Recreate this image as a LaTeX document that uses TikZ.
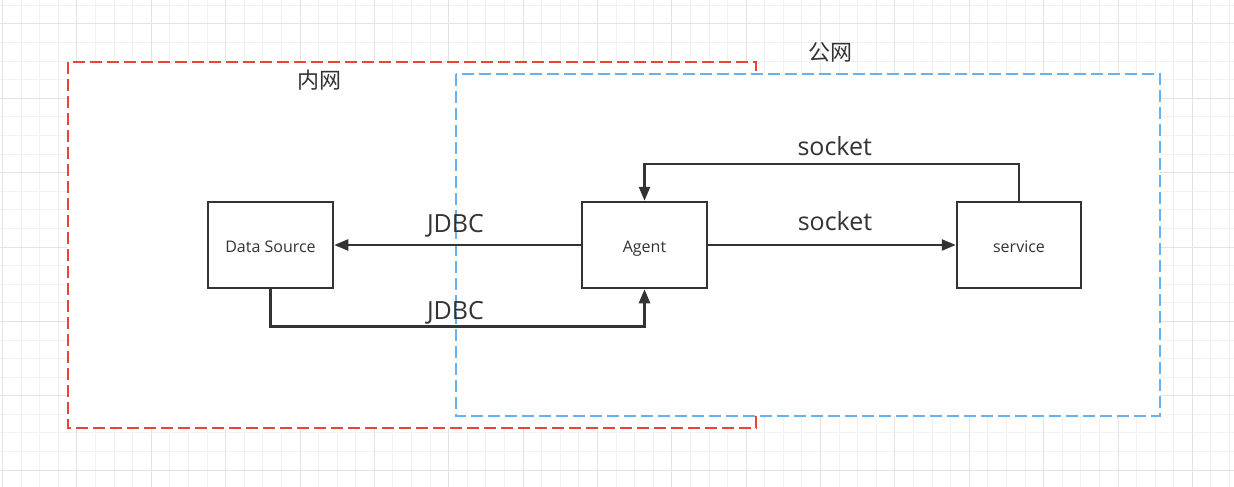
\documentclass[tikz,border=0pt]{standalone}
\usepackage{fontspec}
\setmainfont{Open Sans}
\newfontfamily\cjk{Noto Sans CJK SC}
\usetikzlibrary{arrows.meta}
\definecolor{gridminor}{HTML}{F2F2F2}
\definecolor{gridmajor}{HTML}{E3E3E3}
\definecolor{netred}{HTML}{EA4438}
\definecolor{netblue}{HTML}{66B2F0}
\definecolor{ink}{HTML}{333333}
\tikzset{
  zone/.style={fill=white, line width=2.7pt, dash pattern=on 12pt off 5pt},
  box/.style={draw=ink, fill=white, line width=2.5pt, minimum width=125pt, minimum height=86pt, inner sep=0pt, text height=14pt, text depth=0pt, font=\fontsize{16}{19}\selectfont, text=ink},
  conn/.style={draw=ink, line width=2.5pt, -{Triangle[length=14pt,width=11pt]}},
  lbl/.style={font=\fontsize{25}{30}\selectfont, text=ink, inner sep=0pt, anchor=base},
  ttl/.style={font=\cjk\fontsize{22}{26}\selectfont, text=ink, inner sep=0pt}
}
\begin{document}
\begin{tikzpicture}[x=1pt,y=-1pt]
\useasboundingbox (0,0) rectangle (1234,487);
\fill[white] (0,0) rectangle (1234,487);
\foreach \i in {0,...,66} \draw[gridminor, line width=1pt] ({2.6+18.59*\i},0) -- ({2.6+18.59*\i},487);
\foreach \i in {0,...,25} \draw[gridminor, line width=1pt] (0,{5.4+18.59*\i}) -- (1234,{5.4+18.59*\i});
\foreach \i in {0,...,16} \draw[gridmajor, line width=1pt] ({2.6+74.36*\i},0) -- ({2.6+74.36*\i},487);
\foreach \i in {0,...,6} \draw[gridmajor, line width=1pt] (0,{24+74.36*\i}) -- (1234,{24+74.36*\i});

\draw[zone, draw=netred] (68,62) rectangle (756,428);
\draw[zone, draw=netblue] (456,74) rectangle (1160,416);

\node[ttl] (inner) at (319,80) {内网};
\node[ttl] (outer) at (830,52) {公网};

\node[box] (ds) at (270.5,245) {Data Source};
\node[box] (agent) at (644.5,245) {Agent};
\node[box, minimum width=124pt] (svc) at (1019,245) {service};

\draw[conn] (agent.west) -- (ds.east) node[lbl, midway, xshift=-2pt, yshift=13pt] {JDBC};
\draw[conn] (ds.south) -- ++(0,37) -| (agent.south) node[lbl, pos=0.25, xshift=-2pt, yshift=7pt] {JDBC};
\draw[conn] (agent.east) -- (svc.west) node[lbl, midway, xshift=3pt, yshift=15pt] {socket};
\draw[conn] (svc.north) -- ++(0,-37) -| (agent.north) node[lbl, pos=0.25, xshift=3pt, yshift=8pt] {socket};
\end{tikzpicture}
\end{document}
